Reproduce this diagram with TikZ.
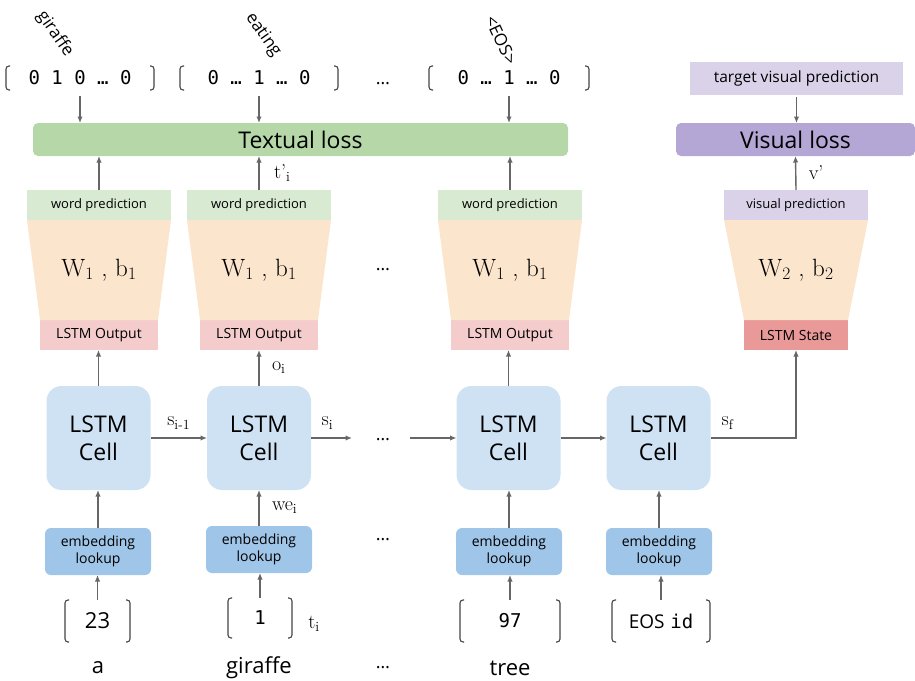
\documentclass[tikz,border=0pt]{standalone}
\usepackage{fontspec}
\usetikzlibrary{arrows.meta}
\newfontfamily\osans{Open Sans}
\newfontfamily\mono{DejaVu Sans Mono}
\definecolor{arrowgray}{HTML}{666666}
\definecolor{brkgray}{HTML}{444444}
\definecolor{lossgreen}{HTML}{B6D7A8}
\definecolor{losspurple}{HTML}{B4A7D6}
\definecolor{lightpurple}{HTML}{D9D2E9}
\definecolor{lightgreen}{HTML}{D9EAD3}
\definecolor{peach}{HTML}{FCE5CD}
\definecolor{pinkout}{HTML}{F4CCCC}
\definecolor{redstate}{HTML}{EA9999}
\definecolor{cellblue}{HTML}{CFE2F3}
\definecolor{embblue}{HTML}{9FC5E8}
\newcommand{\fsz}[1]{\fontsize{#1}{#1}\selectfont}
\tikzset{
  arr/.style={draw=arrowgray, line width=1.4pt, -{Latex[length=6.5pt,width=5.5pt]}},
  brk/.style={draw=brkgray, line width=1.1pt, rounded corners=3pt},
  flat/.style={inner sep=0pt, outer sep=0pt, align=center},
  lossbox/.style={flat, rounded corners=5pt, minimum height=33pt, font=\osans\fsz{23}},
  predbox/.style={flat, minimum width=144pt, minimum height=30pt, font=\osans\fsz{13}},
  outbox/.style={flat, minimum width=118pt, minimum height=30pt, font=\osans\fsz{14}},
  cellbox/.style={flat, fill=cellblue, rounded corners=15pt, minimum width=104pt, minimum height=104pt, font=\osans\fontsize{23}{28}\selectfont},
  embbox/.style={flat, fill=embblue, rounded corners=6pt, minimum width=106pt, minimum height=47pt, font=\osans\fontsize{14}{17}\selectfont},
  vecnode/.style={flat, minimum height=24pt, font=\mono\fsz{19}},
  innode/.style={flat, minimum height=42pt},
  rotlab/.style={flat, font=\osans\fsz{17}},
  wordlab/.style={flat, font=\osans\fsz{22}},
  dots/.style={flat, font=\osans\fsz{18}},
  mlab/.style={flat, font=\rmfamily\fsz{20}},
  wlab/.style={flat, font=\rmfamily\fsz{25}},
}
\begin{document}
\begin{tikzpicture}[x=1pt,y=-1pt]
\useasboundingbox (0,0) rectangle (915,680);

% rotated target words
\node[rotlab, rotate=-55] (r1) at (55,34) {giraffe};
\node[rotlab, rotate=-55] (r2) at (263,35) {eating};
\node[rotlab, rotate=-65] (r3) at (501,40) {<EOS>};

% one-hot vectors
\node[vecnode, minimum width=148pt] (v1) at (80,78) {0 1 0 … 0};
\node[vecnode, minimum width=158pt] (v2) at (259,78) {0 … 1 … 0};
\node[vecnode, minimum width=160pt] (v3) at (509,78) {0 … 1 … 0};
\node[dots] (dt0) at (383,84) {…};

% target visual prediction
\node[flat, fill=lightpurple, minimum width=213pt, minimum height=33pt, font=\osans\fsz{15.5}] (tvp) at (796.5,78.5) {target visual prediction};

% losses
\node[lossbox, fill=lossgreen, minimum width=535pt] (tl) at (300.5,139.5) {Textual loss};
\node[lossbox, fill=losspurple, minimum width=239pt] (vl) at (795.5,139.5) {Visual loss};

% prediction boxes
\node[predbox, fill=lightgreen] (wp1) at (99,205) {word prediction};
\node[predbox, fill=lightgreen] (wp2) at (259,205) {word prediction};
\node[predbox, fill=lightgreen] (wp3) at (510,205) {word prediction};
\node[predbox, fill=lightpurple] (vp) at (796,205) {visual prediction};

% LSTM output / state
\node[outbox, fill=pinkout] (lo1) at (99,335) {LSTM Output};
\node[outbox, fill=pinkout] (lo2) at (259,335) {LSTM Output};
\node[outbox, fill=pinkout] (lo3) at (510,335) {LSTM Output};
\node[outbox, fill=redstate, minimum width=104pt] (ls) at (796,335) {LSTM State};

% trapezoids
\foreach \a/\b in {wp1/lo1, wp2/lo2, wp3/lo3, vp/ls}{
  \fill[peach] (\a.south west) -- (\a.south east) -- (\b.north east) -- (\b.north west) -- cycle;
}
\node[wlab] (w1) at (99,270) {W\textsubscript{1} , b\textsubscript{1}};
\node[wlab] (w2) at (259,270) {W\textsubscript{1} , b\textsubscript{1}};
\node[wlab] (w3) at (510,270) {W\textsubscript{1} , b\textsubscript{1}};
\node[wlab] (w4) at (796,270) {W\textsubscript{2} , b\textsubscript{2}};
\node[dots] (dt1) at (383,270) {…};

% LSTM cells
\node[cellbox] (c1) at (98.5,438) {LSTM\\Cell};
\node[cellbox] (c2) at (259,438) {LSTM\\Cell};
\node[cellbox] (c3) at (508.5,438) {LSTM\\Cell};
\node[cellbox] (c4) at (658.5,438) {LSTM\\Cell};
\node[dots] (dt2) at (383,440) {…};
\coordinate (a2) at (352,438);
\coordinate (a3) at (410,438);

% embedding lookups
\node[embbox] (e1) at (98,551.5) {embedding\\lookup};
\node[embbox] (e2) at (259,549.5) {embedding\\lookup};
\node[embbox] (e3) at (509,551.5) {embedding\\lookup};
\node[embbox] (e4) at (659,551.5) {embedding\\lookup};
\node[dots] (dt3) at (383,540) {…};

% inputs
\node[innode, minimum width=65pt, font=\osans\fsz{22}] (i1) at (97.5,621) {23};
\node[innode, minimum width=64pt, minimum height=40pt, font=\mono\fsz{19}] (i2) at (260,618) {1};
\node[innode, minimum width=100pt, font=\mono\fsz{19}] (i3) at (510,621) {97};
\node[innode, minimum width=98pt, font=\fsz{19}] (i4) at (661,621) {{\osans EOS} {\mono id}};

% words
\node[wordlab] (x1) at (98,668) {a};
\node[wordlab] (x2) at (259,668) {giraffe};
\node[dots] (dt4) at (383,668) {…};
\node[wordlab] (x3) at (510,668) {tree};

% brackets
\foreach \n in {v1,v2,v3,i1,i2,i3,i4}{
  \draw[brk] ([xshift=4pt]\n.north west) -- (\n.north west) -- (\n.south west) -- ([xshift=4pt]\n.south west);
  \draw[brk] ([xshift=-4pt]\n.north east) -- (\n.north east) -- (\n.south east) -- ([xshift=-4pt]\n.south east);
}

% arrows: vectors -> textual loss
\foreach \v in {v1,v2,v3}{
  \draw[arr, shorten <=6pt] (\v.south) -- (\v.south |- tl.north);
}
\draw[arr, shorten <=2pt] (tvp.south) -- (tvp.south |- vl.north);

% predictions -> losses
\draw[arr] (wp1.north) -- (wp1.north |- tl.south);
\draw[arr] (wp2.north) -- node[mlab, right=15pt] {t’\textsubscript{i}} (wp2.north |- tl.south);
\draw[arr] (wp3.north) -- (wp3.north |- tl.south);
\draw[arr] (vp.north) -- node[mlab, right=13pt] {v’} (vl.south);

% cells -> outputs
\draw[arr] (c1.north) -- (c1.north |- lo1.south);
\draw[arr] (c2.north) -- node[mlab, right=13pt] {o\textsubscript{i}} (lo2.south);
\draw[arr] (c3.north) -- (c3.north |- lo3.south);

% embeddings -> cells
\draw[arr] (e1.north) -- (e1.north |- c1.south);
\draw[arr] (e2.north) -- node[mlab, right=13pt] {we\textsubscript{i}} (c2.south);
\draw[arr] (e3.north) -- (e3.north |- c3.south);
\draw[arr] (e4.north) -- (e4.north |- c4.south);

% inputs -> embeddings
\foreach \i/\e in {i1/e1, i2/e2, i3/e3, i4/e4}{
  \draw[arr] (\i.north) -- (\i.north |- \e.south);
}
\node[mlab] (ti) at (314,624) {t\textsubscript{i}};

% recurrent connections
\draw[arr] (c1.east) -- node[mlab, above=9pt] {s\textsubscript{i-1}} (c2.west);
\draw[arr] (c2.east) -- node[mlab, pos=0.4, above=9pt] {s\textsubscript{i}} (a2);
\draw[arr] (a3) -- (c3.west);
\draw[arr] (c3.east) -- (c4.west);
\draw[arr] (c4.east) -| node[mlab, pos=0.1, above=9pt] {s\textsubscript{f}} (ls.south);
\end{tikzpicture}
\end{document}
